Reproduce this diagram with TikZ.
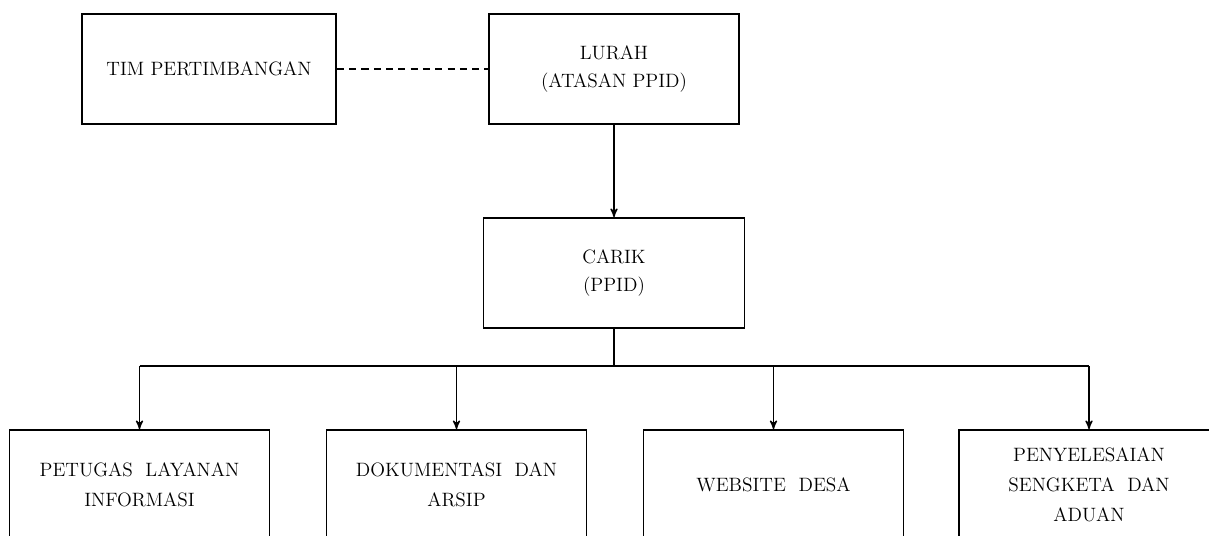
\documentclass[tikz,border=0pt]{standalone}
\usetikzlibrary{arrows}
\usetikzlibrary{positioning}

\tikzset{
  unit/.style={draw, line width=1pt, minimum width=5.2cm, minimum height=2.2cm,
    align=center, font=\fontsize{11}{16}\selectfont, inner sep=2pt},
  link/.style={black, line width=.8pt},
}

\begin{document}
\begin{tikzpicture}
\clip (0,0) rectangle (24.18,10.7);
% top row
\node[unit, minimum width=5.08cm] (tim) at (4.18,9.32) {TIM PERTIMBANGAN};
\node[unit, minimum width=5.0cm] (lurah) at (12.28,9.32) {LURAH\\(ATASAN PPID)};
\draw[link, dash pattern=on 4pt off 3pt] (tim.east) -- (lurah.west);
% carik
\node[unit, minimum width=5.22cm] (carik) at (12.28,5.24) {CARIK\\(PPID)};
\draw[link, ->, >=stealth'] (lurah.south) -- (carik.north);
% bottom row
\node[unit, font=\fontsize{11}{17}\selectfont] (petugas) at (2.79,1.0) {PETUGAS\ \ LAYANAN\\INFORMASI};
\node[unit, font=\fontsize{11}{17}\selectfont] (dokumen) at (9.13,1.0) {DOKUMENTASI\ \ DAN\\ARSIP};
\node[unit, font=\fontsize{11}{17}\selectfont] (website) at (15.47,1.0) {WEBSITE\ \ DESA};
\node[unit, font=\fontsize{11}{17}\selectfont] (sengketa) at (21.78,1.0) {PENYELESAIAN\\SENGKETA\ \ DAN\\ADUAN};
\coordinate (bus) at (12.3,3.38);
\draw[link] (carik.south) -- (carik.south |- bus);
\draw[link] (petugas |- bus) -- (sengketa |- bus);
\foreach \n in {petugas, dokumen, website, sengketa} {
 \draw[link, ->, >=stealth'] (\n |- bus) -- (\n.north);
}
\end{tikzpicture}
\end{document}
